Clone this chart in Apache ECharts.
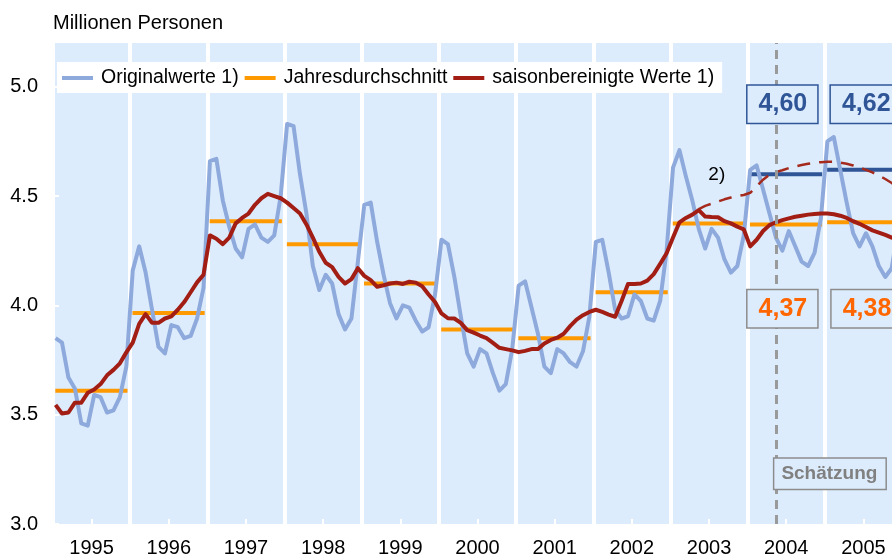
<!DOCTYPE html>
<html>
<head>
<meta charset="utf-8">
<script src="https://cdn.jsdelivr.net/npm/echarts@6/dist/echarts.min.js"></script>
<style>
    html, body { margin: 0; padding: 0; background: #fff; }
    #chart { width: 892px; height: 558px; }
</style>
</head>
<body>
<div id="chart"></div>
<script>
// Arbeitslose in Deutschland, Monatswerte 1995-2005 (ab Mai 2004 Schätzung)
const years = [1995, 1996, 1997, 1998, 1999, 2000, 2001, 2002, 2003, 2004, 2005];

const original = [
    3.85, 3.83, 3.67, 3.62, 3.46, 3.45, 3.59, 3.58, 3.51, 3.52, 3.58, 3.72,
    4.16, 4.27, 4.15, 3.98, 3.81, 3.78, 3.91, 3.90, 3.85, 3.86, 3.94, 4.08,
    4.66, 4.67, 4.48, 4.36, 4.26, 4.22, 4.35, 4.37, 4.31, 4.29, 4.32, 4.50,
    4.83, 4.82, 4.60, 4.42, 4.18, 4.07, 4.14, 4.10, 3.96, 3.89, 3.94, 4.20,
    4.46, 4.47, 4.29, 4.14, 4.01, 3.94, 4.00, 3.99, 3.93, 3.88, 3.90, 4.05,
    4.30, 4.28, 4.13, 3.95, 3.78, 3.72, 3.80, 3.78, 3.69, 3.61, 3.64, 3.80,
    4.09, 4.11, 3.99, 3.87, 3.72, 3.69, 3.80, 3.78, 3.74, 3.72, 3.79, 3.95,
    4.29, 4.30, 4.15, 3.98, 3.94, 3.95, 4.05, 4.02, 3.94, 3.93, 4.02, 4.25,
    4.63, 4.71, 4.59, 4.48, 4.35, 4.26, 4.35, 4.31, 4.21, 4.15, 4.18, 4.32,
    4.62, 4.64, 4.53, 4.42, 4.31, 4.25, 4.34, 4.27, 4.20, 4.18, 4.24, 4.40,
    4.75, 4.77, 4.62, 4.47, 4.33, 4.27, 4.33, 4.27, 4.18, 4.13, 4.17, 4.35
];

const seasonal = [
    3.545, 3.505, 3.51, 3.555, 3.555, 3.60, 3.615, 3.64, 3.68, 3.705, 3.735, 3.785,
    3.83, 3.915, 3.96, 3.92, 3.92, 3.94, 3.95, 3.98, 4.015, 4.06, 4.105, 4.14,
    4.32, 4.305, 4.28, 4.31, 4.375, 4.40, 4.42, 4.46, 4.49, 4.51, 4.50, 4.49,
    4.47, 4.445, 4.42, 4.37, 4.31, 4.245, 4.195, 4.175, 4.13, 4.10, 4.12, 4.17,
    4.135, 4.115, 4.085, 4.092, 4.10, 4.104, 4.098, 4.108, 4.104, 4.087, 4.05, 4.015,
    3.963, 3.941, 3.94, 3.92, 3.887, 3.875, 3.862, 3.85, 3.828, 3.806, 3.80, 3.794,
    3.786, 3.792, 3.80, 3.80, 3.826, 3.842, 3.852, 3.87, 3.905, 3.935, 3.955, 3.97,
    3.98, 3.97, 3.958, 3.948, 4.02, 4.098, 4.098, 4.10, 4.113, 4.143, 4.19, 4.238,
    4.31, 4.38, 4.40, 4.415, 4.436, 4.406, 4.404, 4.403, 4.385, 4.375, 4.36, 4.348,
    4.27, 4.30, 4.34, 4.367, 4.38, 4.39, 4.398, 4.405, 4.41, 4.415, 4.418, 4.42,
    4.42, 4.417, 4.41, 4.40, 4.385, 4.373, 4.358, 4.343, 4.333, 4.322, 4.31, 4.30
];

// Variante 2), beginnt im Mai 2003
const variantStart = 100;
const variant = [
    4.44, 4.455, 4.465, 4.475, 4.485, 4.493, 4.50, 4.505,
    4.515, 4.545, 4.575, 4.598, 4.61, 4.618, 4.628, 4.635, 4.642, 4.648, 4.652, 4.655,
    4.657, 4.657, 4.653, 4.648, 4.64, 4.63, 4.62, 4.608, 4.593, 4.578, 4.56, 4.54
];

const annualAvg = [3.61, 3.965, 4.385, 4.28, 4.10, 3.89, 3.85, 4.06, 4.375, 4.37, 4.38];
const forecastYears = [2004, 2005];
const forecastAvg = [4.60, 4.62];
const estimateFrom = 2004.37;

const yTicks = [3.0, 3.5, 4.0, 4.5, 5.0];

const FONT = "'Liberation Sans', Arial, sans-serif";
const BAND = "#DDECFD";

const monthX = i => 1995 + Math.floor(i / 12) + ((i % 12) + 0.4) / 12;
const fmt = v => v.toFixed(2).replace(".", ",");

const segment = color => function(params, api) {
    const y0 = api.value(0);
    const a = api.coord([y0 + 0.03, api.value(1)]);
    const b = api.coord([y0 + 0.965, api.value(1)]);
    return {
        type: "line",
        shape: { x1: a[0], y1: a[1], x2: b[0], y2: b[1] },
        style: { stroke: color, lineWidth: 4 }
    };
};

const boxStyle = (color, border) => ({
    show: true,
    position: "inside",
    color: color,
    opacity: 1,
    fontFamily: FONT,
    fontSize: 25,
    fontWeight: "bold",
    backgroundColor: BAND,
    borderColor: border,
    borderWidth: 1.5,
    padding: [7, 10, 5, 11]
});

const notes = [];
forecastYears.forEach((y, i) => {
    notes.push({
        value: [y + 0.45 + (i ? 0.08 : 0), 4.92],
        label: { ...boxStyle("#2F5597", "#2F5597"), formatter: fmt(forecastAvg[i]) }
    });
    const avg = annualAvg[years.indexOf(y)];
    notes.push({
        value: [y + 0.45 + (i ? 0.09 : 0), 3.985],
        label: { ...boxStyle("#FF6600", "#8C8C8C"), formatter: fmt(avg) }
    });
});
notes.push({
    value: [estimateFrom - 0.03, 3.23],
    label: {
        ...boxStyle("#808080", "#8C8C8C"),
        position: "right",
        distance: 0,
        fontSize: 19,
        padding: [6, 8, 5, 7],
        formatter: "Schätzung"
    }
});
notes.push({
    value: [2003.6, 4.597],
    label: { show: true, position: "inside", color: "#000", opacity: 1, fontFamily: FONT, fontSize: 19, formatter: "2)" }
});

const chart = echarts.init(document.getElementById("chart"));
chart.setOption({
    animation: false,
    textStyle: { fontFamily: FONT },
    title: {
        text: "Millionen Personen",
        left: 53,
        top: 13,
        padding: 0,
        textStyle: { fontFamily: FONT, fontSize: 20, fontWeight: "normal", color: "#000" }
    },
    legend: {
        data: ["Originalwerte 1)", "Jahresdurchschnitt", "saisonbereinigte Werte 1)"],
        left: 57,
        top: 62,
        backgroundColor: "#fff",
        padding: [6, 8, 5, 5],
        itemGap: 6,
        itemWidth: 31,
        itemHeight: 4,
        icon: "rect",
        textStyle: { fontFamily: FONT, fontSize: 19.5, color: "#000", padding: [0, 0, 0, 3] }
    },
    grid: {
        left: 53,
        top: 43,
        width: 849,
        height: 481,
        show: true,
        backgroundColor: BAND,
        borderWidth: 0,
        outerBoundsMode: "none",
        containLabel: false
    },
    xAxis: [
        {
            type: "category",
            data: years.map(String),
            boundaryGap: true,
            axisLine: { show: false },
            axisTick: { show: true, inside: true, alignWithLabel: true, length: 5, lineStyle: { color: "#fff", width: 2 } },
            axisLabel: { interval: 0, fontSize: 20, color: "#000", margin: 14, fontFamily: FONT },
            splitLine: { show: true, lineStyle: { color: "#fff", width: 4 } }
        },
        {
            type: "value",
            min: 1995,
            max: 2006,
            show: false,
            splitLine: { show: false }
        }
    ],
    yAxis: {
        type: "value",
        min: 3.0,
        max: 5.2,
        interval: 0.5,
        axisLine: { show: false },
        splitLine: { show: false },
        axisTick: { show: true, inside: true, length: 6, lineStyle: { color: "#fff", width: 2 }, customValues: yTicks },
        axisLabel: { fontSize: 20, color: "#000", margin: 15, fontFamily: FONT, customValues: yTicks, formatter: v => v.toFixed(1) }
    },
    series: [
        {
            name: "Originalwerte 1)",
            type: "line",
            xAxisIndex: 1,
            symbol: "none",
            z: 2,
            data: original.map((v, i) => [monthX(i), v]),
            itemStyle: { color: "#8EA9DB" },
            lineStyle: { color: "#8EA9DB", width: 4, join: "round" }
        },
        {
            name: "Jahresdurchschnitt",
            type: "custom",
            xAxisIndex: 1,
            z: 2,
            itemStyle: { color: "#FF9900" },
            renderItem: segment("#FF9900"),
            encode: { x: 0, y: 1 },
            data: years.map((y, i) => [y, annualAvg[i]])
        },
        {
            name: "Prognose",
            type: "custom",
            xAxisIndex: 1,
            z: 2,
            itemStyle: { color: "#2F5597" },
            renderItem: segment("#2F5597"),
            encode: { x: 0, y: 1 },
            data: forecastYears.map((y, i) => [y, forecastAvg[i]])
        },
        {
            name: "2)",
            type: "line",
            xAxisIndex: 1,
            symbol: "none",
            z: 2,
            data: variant.map((v, i) => [monthX(variantStart + i), v]),
            lineStyle: { color: "#A52A1E", width: 2.5, type: [13, 9] }
        },
        {
            name: "saisonbereinigte Werte 1)",
            type: "line",
            xAxisIndex: 1,
            symbol: "none",
            z: 2,
            data: seasonal.map((v, i) => [monthX(i), v]),
            itemStyle: { color: "#A21E14" },
            lineStyle: { color: "#A21E14", width: 4, join: "round" }
        },
        {
            name: "Schätzung",
            type: "line",
            xAxisIndex: 1,
            z: 3,
            data: [],
            markLine: {
                silent: true,
                symbol: "none",
                label: { show: false },
                lineStyle: { color: "#9A9A9A", width: 3, type: [9, 6] },
                data: [{ xAxis: estimateFrom }]
            }
        },
        {
            name: "Notizen",
            type: "scatter",
            xAxisIndex: 1,
            z: 5,
            symbolSize: 1,
            itemStyle: { color: "rgba(0,0,0,0)", opacity: 1 },
            data: notes
        }
    ]
});
</script>
</body>
</html>
